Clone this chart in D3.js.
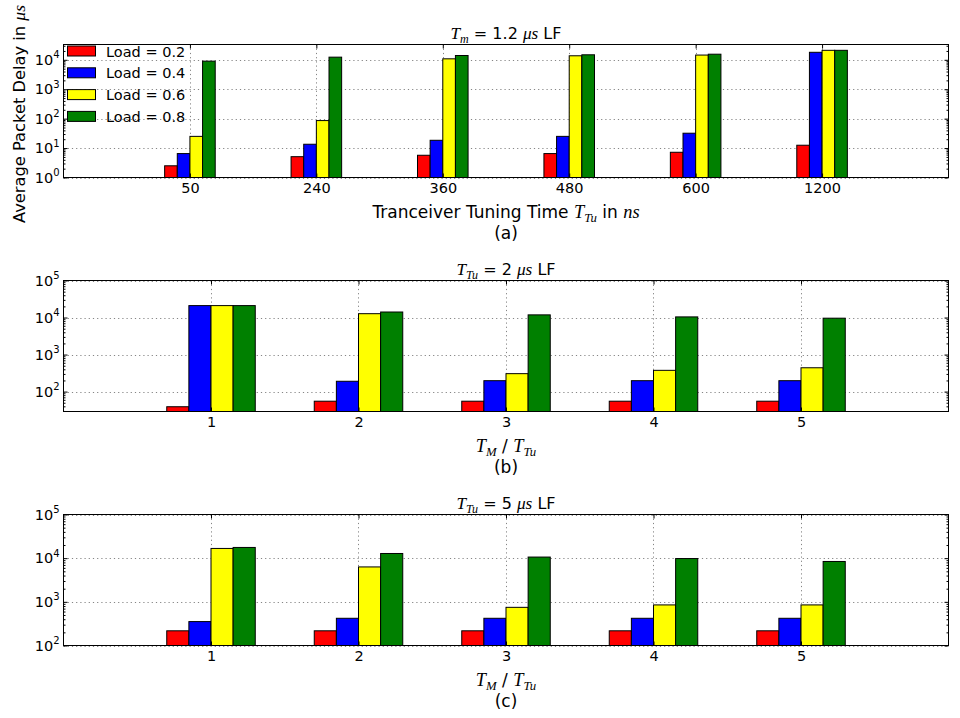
<!DOCTYPE html>
<html>
<head>
<meta charset="utf-8">
<script src="https://cdn.jsdelivr.net/npm/d3@7"></script>
<style>
  html, body { margin: 0; padding: 0; background: #fff; }
  svg text { font-family: "DejaVu Sans", sans-serif; fill: #000; white-space: pre; }
</style>
</head>
<body>
<svg id="chart" width="960" height="718"></svg>
<script>
// Series legend and bar colours
const loads = ["Load = 0.2", "Load = 0.4", "Load = 0.6", "Load = 0.8"];
const colors = ["#ff0000", "#0000ff", "#ffff00", "#008000"];

// (a) transceiver tuning times in ns
const tuningTimes = ["50", "240", "360", "480", "600", "1200"];
const delayA_02 = [2.5, 5.1, 5.7, 6.5, 7.2, 12.5];
const delayA_04 = [6.5, 13.5, 18.4, 25, 32, 18000];
const delayA_06 = [25, 86, 10800, 13700, 14500, 21000];
const delayA_08 = [9000, 12300, 14000, 14800, 15500, 21000];

// (b) and (c) ratio T_M / T_Tu
const ratios = [1, 2, 3, 4, 5];
const delayB_02 = [39, 55, 55, 55, 55];
const delayB_04 = [21000, 190, 197, 197, 197];
const delayB_06 = [21000, 12700, 305, 375, 440];
const delayB_08 = [21000, 14100, 11800, 10400, 9600];

const delayC_02 = [217, 217, 217, 217, 217];
const delayC_04 = [353, 420, 420, 420, 420];
const delayC_06 = [16700, 6300, 748, 850, 850];
const delayC_08 = [17600, 12800, 10600, 9800, 8400];

// y tick exponents shown per panel
const expA = [0, 1, 2, 3, 4];
const expBC = [2, 3, 4, 5];

const svg = d3.select("#chart");
const L = 63.5, R = 948.5;
const MATH = "'Liberation Serif', 'DejaVu Serif', serif";
const TICK_FS = 14.5, LABEL_FS = 17, TITLE_FS = 16;

// Rich text: segments {t, m (math italic), sub}
function richText(sel, parts, size) {
  let shifted = false;
  parts.forEach(p => {
    const ts = sel.append("tspan").text(p.t);
    if (p.m) ts.attr("font-family", MATH).attr("font-style", "italic").attr("font-size", size * 1.08);
    else ts.attr("font-size", size);
    if (p.sub) {
      ts.attr("font-size", size * 0.75).attr("dy", shifted ? 0 : size * 0.25);
      shifted = true;
    } else if (shifted) {
      ts.attr("dy", -size * 0.25);
      shifted = false;
    }
  });
}

const panels = [
  {
    top: 44.5, bottom: 177.5,
    xDomain: [-1, 6], xTicks: d3.range(tuningTimes.length), xLabels: tuningTimes,
    yDomain: [1, Math.pow(10, 4.52)], exps: expA, barW: 0.1,
    series: [delayA_02, delayA_04, delayA_06, delayA_08],
    title: [{t: "T", m: 1}, {t: "m", m: 1, sub: 1}, {t: " = 1.2 "}, {t: "μs", m: 1}, {t: " LF"}],
    xlabel: [{t: "Tranceiver Tuning Time "}, {t: "T", m: 1}, {t: "Tu", m: 1, sub: 1}, {t: " in "}, {t: "ns", m: 1}],
    caption: "(a)", legend: true
  },
  {
    top: 280.5, bottom: 411.5,
    xDomain: [0, 6], xTicks: ratios, xLabels: ratios.map(String),
    yDomain: [29, 1e5], exps: expBC, barW: 0.15,
    series: [delayB_02, delayB_04, delayB_06, delayB_08],
    title: [{t: "T", m: 1}, {t: "Tu", m: 1, sub: 1}, {t: " = 2 "}, {t: "μs", m: 1}, {t: " LF"}],
    xlabel: [{t: "T", m: 1}, {t: "M", m: 1, sub: 1}, {t: " / "}, {t: "T", m: 1}, {t: "Tu", m: 1, sub: 1}],
    caption: "(b)", legend: false
  },
  {
    top: 514.5, bottom: 645.5,
    xDomain: [0, 6], xTicks: ratios, xLabels: ratios.map(String),
    yDomain: [100, 1e5], exps: expBC, barW: 0.15,
    series: [delayC_02, delayC_04, delayC_06, delayC_08],
    title: [{t: "T", m: 1}, {t: "Tu", m: 1, sub: 1}, {t: " = 5 "}, {t: "μs", m: 1}, {t: " LF"}],
    xlabel: [{t: "T", m: 1}, {t: "M", m: 1, sub: 1}, {t: " / "}, {t: "T", m: 1}, {t: "Tu", m: 1, sub: 1}],
    caption: "(c)", legend: false
  }
];

panels.forEach(p => {
  const g = svg.append("g");
  const x = d3.scaleLinear().domain(p.xDomain).range([L, R]);
  const y = d3.scaleLog().domain(p.yDomain).range([p.bottom, p.top]);

  const majors = p.exps.map(e => Math.pow(10, e));
  const minors = [];
  const lo = Math.floor(Math.log10(p.yDomain[0])), hi = Math.ceil(Math.log10(p.yDomain[1]));
  for (let k = lo; k < hi; k++) {
    for (let m = 2; m <= 9; m++) {
      const v = m * Math.pow(10, k);
      if (v >= p.yDomain[0] && v <= p.yDomain[1]) minors.push(v);
    }
  }

  // dotted grid
  const grid = g.append("g").attr("stroke", "#333").attr("stroke-width", 0.6)
    .attr("stroke-dasharray", "1.2,3").attr("fill", "none");
  grid.selectAll("line.gx").data(p.xTicks).join("line").attr("class", "gx")
    .attr("x1", d => Math.round(x(d)) + 0.5).attr("x2", d => Math.round(x(d)) + 0.5)
    .attr("y1", p.top).attr("y2", p.bottom);
  grid.selectAll("line.gy").data(majors).join("line").attr("class", "gy")
    .attr("x1", L).attr("x2", R)
    .attr("y1", d => Math.round(y(d)) + 0.5).attr("y2", d => Math.round(y(d)) + 0.5);

  // bars
  p.series.forEach((vals, si) => {
    g.append("g").selectAll("rect").data(vals).join("rect")
      .attr("x", (d, i) => x(p.xTicks[i] + (si - 2) * p.barW))
      .attr("width", x(p.barW) - x(0))
      .attr("y", d => y(d))
      .attr("height", d => p.bottom - y(d))
      .attr("fill", colors[si])
      .attr("stroke", "#000")
      .attr("stroke-width", 1);
  });

  // axes: ticks point inward on all four sides
  const fmtX = d => p.xLabels[p.xTicks.indexOf(d)];
  const ax = (axis, tr) => {
    const a = g.append("g").attr("transform", tr).call(axis);
    a.select(".domain").remove();
    a.selectAll("line").attr("stroke", "#000");
    return a;
  };
  const bottomAx = ax(d3.axisBottom(x).tickValues(p.xTicks).tickFormat(fmtX).tickSize(-4).tickPadding(5),
    `translate(0,${p.bottom})`);
  bottomAx.selectAll("text").attr("font-size", TICK_FS);
  ax(d3.axisTop(x).tickValues(p.xTicks).tickFormat("").tickSize(-4), `translate(0,${p.top})`);

  const leftAx = ax(d3.axisLeft(y).tickValues(majors).tickSize(-4).tickPadding(4), `translate(${L},0)`);
  leftAx.selectAll("text").attr("font-size", TICK_FS)
    .each(function(d) {
      const t = d3.select(this);
      t.text("");
      t.append("tspan").text("10");
      t.append("tspan").text(String(Math.round(Math.log10(d))))
        .attr("font-size", 10).attr("dy", -6.5);
    });
  ax(d3.axisLeft(y).tickValues(minors).tickFormat("").tickSize(-2), `translate(${L},0)`);
  ax(d3.axisRight(y).tickValues(majors).tickFormat("").tickSize(-4), `translate(${R},0)`);
  ax(d3.axisRight(y).tickValues(minors).tickFormat("").tickSize(-2), `translate(${R},0)`);

  // frame
  g.append("rect").attr("x", L).attr("y", p.top).attr("width", R - L).attr("height", p.bottom - p.top)
    .attr("fill", "none").attr("stroke", "#000").attr("stroke-width", 1);

  const cx = (L + R) / 2;
  richText(g.append("text").attr("x", cx).attr("y", p.top - 6).attr("text-anchor", "middle"), p.title, TITLE_FS);
  richText(g.append("text").attr("x", cx).attr("y", p.bottom + 40.5).attr("text-anchor", "middle"), p.xlabel, LABEL_FS);
  g.append("text").attr("x", cx).attr("y", p.bottom + 61).attr("text-anchor", "middle")
    .attr("font-size", LABEL_FS).text(p.caption);

  if (p.legend) {
    const lg = g.append("g").attr("transform", `translate(67.5,${p.top + 1.5})`);
    loads.forEach((name, i) => {
      const row = lg.append("g").attr("transform", `translate(0,${i * 21.8})`);
      row.append("rect").attr("x", 0).attr("y", 0).attr("width", 28).attr("height", 10)
        .attr("fill", colors[i]).attr("stroke", "#000").attr("stroke-width", 1);
      row.append("text").attr("x", 38.5).attr("y", 10.5).attr("font-size", TICK_FS).text(name);
    });
  }
});

// shared y axis label
richText(svg.append("text").attr("text-anchor", "middle")
  .attr("transform", "translate(25,114) rotate(-90)"),
  [{t: "Average Packet Delay in "}, {t: "μs", m: 1}], 16.3);
</script>
</body>
</html>
